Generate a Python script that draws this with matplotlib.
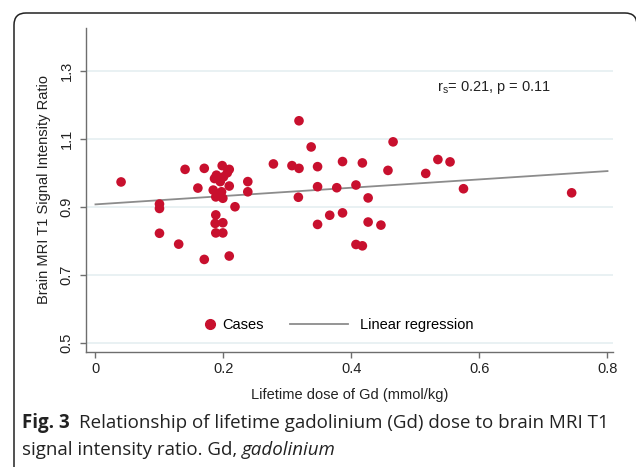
import matplotlib
matplotlib.use("Agg")
import matplotlib.pyplot as plt
from matplotlib.patches import FancyBboxPatch
from matplotlib.transforms import IdentityTransform
from matplotlib.lines import Line2D
import numpy as np

# ---- data ----
dose = [0.04, 0.10, 0.10, 0.10, 0.13, 0.14, 0.16, 0.17, 0.17,
        0.198, 0.209, 0.206, 0.189, 0.186, 0.200, 0.195, 0.209, 0.184,
        0.197, 0.188, 0.199, 0.218, 0.238, 0.238, 0.188, 0.187, 0.199,
        0.188, 0.199, 0.209, 0.278, 0.307, 0.318, 0.318, 0.317, 0.337,
        0.347, 0.347, 0.347, 0.366, 0.377, 0.386, 0.386, 0.407, 0.407,
        0.417, 0.417, 0.426, 0.426, 0.446, 0.457, 0.465, 0.516, 0.535,
        0.554, 0.575, 0.744]
ratio = [0.973, 0.908, 0.895, 0.822, 0.790, 1.010, 0.955, 1.013, 0.745,
         1.021, 1.010, 1.000, 0.993, 0.983, 0.988, 0.974, 0.961, 0.949,
         0.944, 0.929, 0.925, 0.900, 0.974, 0.944, 0.876, 0.851, 0.853,
         0.823, 0.823, 0.755, 1.026, 1.021, 1.153, 1.013, 0.928, 1.076,
         1.018, 0.959, 0.848, 0.875, 0.956, 1.033, 0.882, 0.964, 0.789,
         1.029, 0.785, 0.926, 0.855, 0.846, 1.007, 1.091, 0.998, 1.039,
         1.032, 0.953, 0.941]
reg_intercept = 0.907
reg_slope = 0.1225
reg_x = [0.0, 0.8]

x_ticks = [0, 0.2, 0.4, 0.6, 0.8]
x_ticklabels = ["0", "0.2", "0.4", "0.6", "0.8"]
y_ticks = [0.5, 0.7, 0.9, 1.1, 1.3]
y_ticklabels = ["0.5", "0.7", "0.9", "1.1", "1.3"]

RED = "#c8102e"
GREY_LINE = "#8c8c8c"
AX_COL = "#6e6e6e"

plt.rcParams['font.family'] = ['Liberation Sans', 'DejaVu Sans']

W, H = 636, 467
fig = plt.figure(figsize=(W / 100, H / 100), dpi=100)
fig.patch.set_facecolor("white")

# axes in pixel coords: left 86, right 613, top 28, bottom 352
ax = fig.add_axes([86 / W, (H - 352) / H, (613 - 86) / W, (352 - 28) / H])
ax.set_xlim(-0.0148, 0.8086)
ax.set_ylim(0.4726, 1.426)

for s in ["top", "right"]:
    ax.spines[s].set_visible(False)
for s in ["left", "bottom"]:
    ax.spines[s].set_color(AX_COL)
    ax.spines[s].set_linewidth(1.0)

ax.set_yticks(y_ticks)
ax.set_yticklabels(y_ticklabels, rotation=90, va="center", fontsize=10.5)
ax.set_xticks(x_ticks)
ax.set_xticklabels(x_ticklabels, fontsize=10.5)
ax.tick_params(axis="both", colors=AX_COL, length=4, width=1.0, labelcolor="#222222")
ax.tick_params(axis="y", pad=5)
ax.tick_params(axis="x", pad=3)

ax.yaxis.grid(True, color="#e7f0f2", linewidth=1.3)
ax.set_axisbelow(True)

ax.plot(reg_x, [reg_intercept + reg_slope * v for v in reg_x],
        color=GREY_LINE, linewidth=1.3, zorder=2)
ax.scatter(dose, ratio, s=48, color=RED, edgecolors="none", zorder=3)

ax.set_xlabel("Lifetime dose of Gd (mmol/kg)", fontsize=10.5, color="#222222", labelpad=9)
ax.set_ylabel("Brain MRI T1 Signal Intensity Ratio", fontsize=10.5, color="#222222", labelpad=6)

ax.text(0.534, 1.252, r"r$_\mathregular{s}$= 0.21, p = 0.11", fontsize=10.5,
        color="#222222", va="center", ha="left")

# legend
h1 = Line2D([], [], marker="o", linestyle="none", color=RED, markersize=7)
h2 = Line2D([], [], color=GREY_LINE, linewidth=1.3)
leg1 = ax.legend([h1], ["Cases"], loc="center left", bbox_to_anchor=(0.168, 0.552),
                 bbox_transform=ax.transData, frameon=False, fontsize=10.5,
                 handlelength=1.0, handletextpad=0.3, borderpad=0, borderaxespad=0)
ax.add_artist(leg1)
ax.legend([h2], ["Linear regression"], loc="center left", bbox_to_anchor=(0.304, 0.552),
          bbox_transform=ax.transData, frameon=False, fontsize=10.5,
          handlelength=4.0, handletextpad=0.8, borderpad=0, borderaxespad=0)

# rounded frame
frame = FancyBboxPatch((14, -60), 623, 60 + (H - 13), boxstyle="round,pad=0,rounding_size=12",
                       transform=IdentityTransform(), fill=False, edgecolor="#222222",
                       linewidth=1.1)
fig.add_artist(frame)

# caption
cap_font = ['Open Sans', 'Noto Sans', 'DejaVu Sans']
CAP_FS = 13.5
fig.canvas.draw()
r = fig.canvas.get_renderer()
t1 = fig.text(22 / W, 1 - 423 / H, "Fig. 3", fontsize=CAP_FS, fontweight="bold",
              family=cap_font, color="#222222", va="center", ha="left")
bb = t1.get_window_extent(renderer=r)
fig.text((bb.x1 + 9) / W, 1 - 423 / H,
         "Relationship of lifetime gadolinium (Gd) dose to brain MRI T1",
         fontsize=CAP_FS, family=cap_font, color="#222222", va="center", ha="left")
t3 = fig.text(22 / W, 1 - 450 / H, "signal intensity ratio. Gd, ", fontsize=CAP_FS,
              family=cap_font, color="#222222", va="center", ha="left")
bb3 = t3.get_window_extent(renderer=r)
fig.text((bb3.x1) / W, 1 - 450 / H, "gadolinium", fontsize=CAP_FS, style="italic",
         family=cap_font, color="#222222", va="center", ha="left")

fig.savefig("out.png", dpi=100)
